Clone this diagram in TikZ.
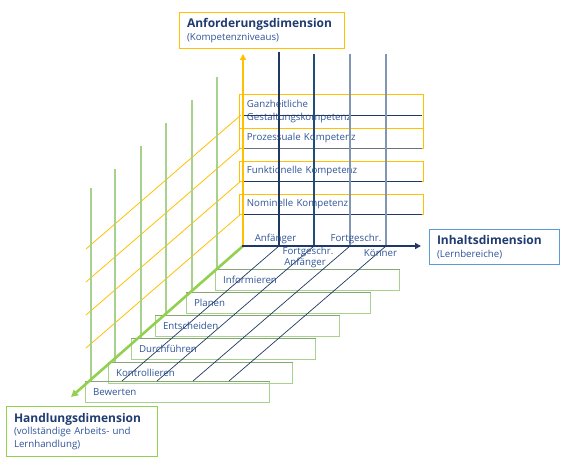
\documentclass[tikz,border=0pt]{standalone}
\usepackage{fontspec}
\setmainfont{Open Sans}
\usetikzlibrary{arrows.meta,calc}
\definecolor{gold}{HTML}{FFC000}
\definecolor{navy}{HTML}{1F3864}
\definecolor{navyb}{HTML}{1F4E79}
\definecolor{grayblue}{HTML}{8096B2}
\definecolor{txtblue}{HTML}{2F5597}
\definecolor{ttlblue}{HTML}{1F3B70}
\definecolor{lgreen}{HTML}{A9D18E}
\definecolor{dgreen}{HTML}{86A675}
\definecolor{agreen}{HTML}{92D050}
\definecolor{lblue}{HTML}{5B9BD5}
\newcommand{\ttlfont}{\fontsize{12bp}{13bp}\selectfont\bfseries\color{ttlblue}}
\begin{document}
\begin{tikzpicture}[x=1bp,y=-1bp,
  lbl/.style={font=\fontsize{9.7bp}{12bp}\selectfont, text=txtblue, inner sep=0},
  gbox/.style={lbl, draw=lgreen, line width=1.2bp, anchor=north west, minimum width=184bp,
    minimum height=21bp, text width=169bp, inner xsep=7.5bp, inner ysep=0, align=left},
  gtop/.style={dgreen, line width=1bp},
  kbox/.style={lbl, draw=gold, line width=0.8bp, anchor=north west, minimum width=184bp,
    text width=169bp, inner xsep=7.5bp, inner ysep=0, align=left},
  kline/.style={navy, line width=1bp},
  odiag/.style={gold, line width=0.8bp},
  gvert/.style={lgreen, line width=1.1bp},
  bdiag/.style={navy, line width=0.7bp},
  dbox/.style={line width=1bp, anchor=north west, inner xsep=7.5bp, inner ysep=0, align=left,
    font=\fontsize{9.7bp}{13bp}\selectfont, text=txtblue}]
\useasboundingbox (0,0) rectangle (569,468);

% orange diagonals
\foreach \i/\y in {1/115,2/148,3/181,4/214}{
  \coordinate (os\i) at (241,\y);
  \coordinate (oe\i) at (86,{\y+134});
  \draw[odiag] (os\i) -- (oe\i);
}

% green boxes
\node[gbox] (inf) at (215,269) {Informieren};
\node[gbox] (pla) at (186,292) {Planen};
\node[gbox] (ent) at (155,315) {Entscheiden};
\node[gbox] (dur) at (131,338) {Durchführen};
\node[gbox] (kon) at (108,362) {Kontrollieren};
\node[gbox] (bew) at (85,381) {Bewerten};
\foreach \b in {inf,pla,ent,dur,kon,bew}{
  \draw[gtop] (\b.north west) -- (\b.north east);
}

% green verticals
\coordinate (g1) at (91,188);
\coordinate (g2) at (115,169);
\coordinate (g3) at (141,146);
\coordinate (g4) at (166,123);
\coordinate (g5) at (192,100);
\coordinate (g6) at (217,77);
\draw[gvert] (g1) -- (g1 |- bew.north);
\draw[gvert] (g2) -- (g2 |- kon.north);
\draw[gvert] (g3) -- (g3 |- dur.north);
\draw[gvert] (g4) -- (g4 |- ent.north);
\draw[gvert] (g5) -- (g5 |- pla.north);
\draw[gvert] (g6) -- (g6 |- inf.north);

% blue verticals and diagonals
\coordinate (O) at (243,246);
\foreach \i/\x/\t in {1/279/52,2/314/54,3/350/54,4/386/54}{
  \coordinate (vt\i) at (\x,\t);
  \coordinate (vb\i) at (\x,246);
  \coordinate (de\i) at ({\x-157},381);
  \draw[bdiag] (vb\i) -- (de\i);
}

% green axis
\coordinate (gx) at (71,397);
\draw[agreen, line width=2.6bp, -{Triangle[length=7bp,width=7bp]}] (O) -- (gx);

% orange competence boxes
\node[kbox, minimum height=34bp, font=\fontsize{9.7bp}{13bp}\selectfont] (gz) at (239,94) {Ganzheitliche\\Gestaltungskompetenz};
\node[kbox, minimum height=20bp] (pz) at (239,128) {Prozessuale Kompetenz};
\node[kbox, minimum height=20bp] (fk) at (239,161) {Funktionelle Kompetenz};
\node[kbox, minimum height=20bp] (nm) at (239,194) {Nominelle Kompetenz};
\draw[kline] ($(gz.west)+(4,4)$) -- ($(gz.east)+(-2,4)$);
\draw[kline, draw=gray!80!navy] ($(pz.south west)+(4,0)$) -- ($(pz.south east)+(-2,0)$);
\draw[kline] ($(fk.south west)+(4,0)$) -- ($(fk.south east)+(-2,0)$);
\draw[kline] ($(nm.south west)+(4,-0.5)$) -- ($(nm.south east)+(-2,-0.5)$);

% blue verticals on top
\draw[navy, line width=1.2bp] (vt1) -- (vb1);
\draw[navyb, line width=1.2bp] (vt2) -- (vb2);
\draw[grayblue, line width=1.3bp] (vt3) -- (vb3);
\draw[grayblue, line width=1.3bp] (vt4) -- (vb4);

% orange and blue axes
\coordinate (oz) at (243,54);
\coordinate (bx) at (421,246);
\draw[gold, line width=2.6bp, -{Triangle[length=6bp,width=6bp]}] ($(O)+(0,1)$) -- (oz);
\draw[navy, line width=2bp, -{Triangle[length=6bp,width=6bp]}] ($(O)+(-1,0)$) -- (bx);

% axis labels
\node[lbl] (l1) at (275.5,239) {Anfänger};
\node[lbl] (l2) at (356,239) {Fortgeschr.};
\node[lbl] (l3) at (308,252) {Fortgeschr.};
\node[lbl] (l4) at (305,263) {Anfänger};
\node[lbl] (l5) at (380.5,253) {Könner};

% dimension boxes
\node[dbox, draw=gold, minimum width=165bp, text width=150bp, minimum height=36bp] (ad) at (179,12)
  {{\ttlfont Anforderungsdimension}\\(Kompetenzniveaus)};
\node[dbox, draw=lblue, minimum width=130bp, text width=115bp, minimum height=35bp] (id) at (429,229)
  {{\ttlfont Inhaltsdimension}\\(Lernbereiche)};
\node[dbox, draw=agreen, minimum width=151bp, text width=136bp, minimum height=50bp,
  font=\fontsize{9.7bp}{12.5bp}\selectfont] (hd) at (6,406)
  {{\ttlfont Handlungsdimension}\\(vollständige Arbeits- und\\Lernhandlung)};
\end{tikzpicture}
\end{document}
